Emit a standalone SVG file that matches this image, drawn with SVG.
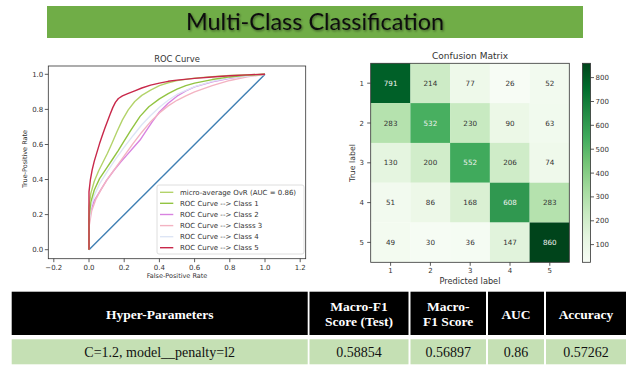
<svg xmlns="http://www.w3.org/2000/svg" width="634" height="372" viewBox="0 0 634 372">
  <style>
    .tick { font-family: "DejaVu Sans", sans-serif; font-size: 7px; fill: #333; }
    .lbl { font-family: "DejaVu Sans", sans-serif; fill: #333; }
    .ax { fill: none; stroke: #333; stroke-width: 0.8; }
    .tk { stroke: #333; stroke-width: 0.8; }
    .curve { fill: none; stroke-width: 1.4; vector-effect: non-scaling-stroke; stroke-linejoin: round; }
    .cell { font-family: "DejaVu Sans", sans-serif; font-size: 7.2px; text-anchor: middle; fill: #333; }
    .cell.w { fill: #f2f2f2; }
    .hd { font-family: "Liberation Serif", "Times New Roman", serif; font-size: 13.5px; font-weight: bold; fill: #fff; text-anchor: middle; }
    .dt { font-family: "Liberation Serif", "Times New Roman", serif; font-size: 14px; fill: #111; text-anchor: middle; }
    .hdbg { fill: #000; }
    .dtbg { fill: #c5e0b4; }
  </style>
  <defs>
    <filter id="shadow" x="-5%" y="-20%" width="110%" height="150%">
      <feDropShadow dx="1" dy="1.2" stdDeviation="0.8" flood-color="#000" flood-opacity="0.45"/>
    </filter>
    <linearGradient id="greens" x1="0" y1="1" x2="0" y2="0">
      <stop offset="0" stop-color="#f7fcf5"/>
      <stop offset="0.125" stop-color="#e5f5e0"/>
      <stop offset="0.25" stop-color="#c7e9c0"/>
      <stop offset="0.375" stop-color="#a1d99b"/>
      <stop offset="0.5" stop-color="#74c476"/>
      <stop offset="0.625" stop-color="#41ab5d"/>
      <stop offset="0.75" stop-color="#238b45"/>
      <stop offset="0.875" stop-color="#006d2c"/>
      <stop offset="1" stop-color="#00441b"/>
    </linearGradient>
  </defs>

  <rect width="634" height="372" fill="#fff"/>

  <!-- banner -->
  <g id="banner">
    <rect x="47" y="6" width="536" height="32" fill="#70ad47"/>
    <text x="315" y="29.5" text-anchor="middle" font-family="Lato, 'Open Sans', sans-serif" font-size="24" fill="#111" textLength="258" lengthAdjust="spacingAndGlyphs" filter="url(#shadow)">Multi-Class Classification</text>
  </g>

  <!-- ROC chart -->
  <g id="roc-chart">
    <text class="lbl" x="177" y="62" font-size="8.4" text-anchor="middle">ROC Curve</text>
    <!-- curves, data space 0..1000 -->
    <g transform="matrix(0.176 0 0 -0.1754 89 249.7)">
      <polyline class="curve" stroke="#3f7fb3" points="0,0 1000,1000"/>
      <polyline class="curve" stroke="#d883e0" points="0,0 0,160 10,220 30,280 60,330 100,395 140,450 180,500 220,545 250,580 290,625 320,670 360,730 400,785 450,835 500,875 550,905 600,928 700,957 800,977 900,991 1000,1000"/>
      <polyline class="curve" stroke="#f3b3c2" points="0,0 0,130 15,220 40,290 70,345 100,395 150,465 200,535 250,605 300,670 350,730 400,780 450,820 500,852 550,877 600,900 700,935 800,965 900,985 1000,1000"/>
      <polyline class="curve" stroke="#dde5f5" points="0,0 0,150 10,240 30,310 60,375 100,440 150,515 200,585 250,650 300,712 350,765 400,812 450,852 500,885 600,930 700,960 800,980 1000,1000"/>
      <polyline class="curve" stroke="#92c442" points="0,0 0,180 10,270 30,340 60,405 100,465 130,510 166,565 200,620 240,685 290,760 340,815 400,860 450,890 500,915 550,935 600,950 700,970 800,985 900,995 1000,1000"/>
      <polyline class="curve" stroke="#b3d36a" points="0,0 0,240 10,320 30,390 55,450 80,500 105,550 130,605 160,675 190,740 223,797 260,845 300,880 350,910 400,935 450,952 500,964 600,978 700,987 800,994 1000,1000"/>
      <polyline class="curve" stroke="#c8284a" points="0,0 0,330 8,400 18,455 30,505 45,555 60,605 75,650 90,692 105,732 120,772 135,810 150,840 167,862 190,877 220,890 260,906 300,922 350,938 400,950 450,960 500,967 600,977 700,985 800,992 900,997 1000,1000"/>
    </g>
    <rect class="ax" x="48.3" y="66" width="257.4" height="192.7"/>
    <!-- ticks -->
    <g class="tk">
      <line x1="53.8" y1="258.7" x2="53.8" y2="262.2"/>
      <line x1="89" y1="258.7" x2="89" y2="262.2"/>
      <line x1="124.2" y1="258.7" x2="124.2" y2="262.2"/>
      <line x1="159.4" y1="258.7" x2="159.4" y2="262.2"/>
      <line x1="194.6" y1="258.7" x2="194.6" y2="262.2"/>
      <line x1="229.8" y1="258.7" x2="229.8" y2="262.2"/>
      <line x1="265" y1="258.7" x2="265" y2="262.2"/>
      <line x1="300.2" y1="258.7" x2="300.2" y2="262.2"/>
      <line x1="44.8" y1="249.7" x2="48.3" y2="249.7"/>
      <line x1="44.8" y1="214.6" x2="48.3" y2="214.6"/>
      <line x1="44.8" y1="179.5" x2="48.3" y2="179.5"/>
      <line x1="44.8" y1="144.5" x2="48.3" y2="144.5"/>
      <line x1="44.8" y1="109.4" x2="48.3" y2="109.4"/>
      <line x1="44.8" y1="74.3" x2="48.3" y2="74.3"/>
    </g>
    <g class="tick" text-anchor="middle">
      <text x="53.8" y="269.5">−0.2</text>
      <text x="89" y="269.5">0.0</text>
      <text x="124.2" y="269.5">0.2</text>
      <text x="159.4" y="269.5">0.4</text>
      <text x="194.6" y="269.5">0.6</text>
      <text x="229.8" y="269.5">0.8</text>
      <text x="265" y="269.5">1.0</text>
      <text x="300.2" y="269.5">1.2</text>
    </g>
    <g class="tick" text-anchor="end">
      <text x="43.3" y="252.2">0.0</text>
      <text x="43.3" y="217.1">0.2</text>
      <text x="43.3" y="182">0.4</text>
      <text x="43.3" y="147">0.6</text>
      <text x="43.3" y="111.9">0.8</text>
      <text x="43.3" y="76.8">1.0</text>
    </g>
    <text class="lbl" x="177" y="278.3" font-size="6.5" text-anchor="middle">False-Positive Rate</text>
    <text class="lbl" transform="translate(26.5 159) rotate(-90)" font-size="6.5" text-anchor="middle">True-Positive Rate</text>
    <!-- legend -->
    <g id="roc-legend">
      <rect x="157" y="185" width="147" height="69" rx="2" fill="#fff" fill-opacity="0.85" stroke="#d6d6d6" stroke-width="0.8"/>
      <g stroke-width="1.4">
        <line x1="160" y1="192.3" x2="173.3" y2="192.3" stroke="#b3d36a"/>
        <line x1="160" y1="203.3" x2="173.3" y2="203.3" stroke="#92c442"/>
        <line x1="160" y1="214.5" x2="173.3" y2="214.5" stroke="#d883e0"/>
        <line x1="160" y1="225.6" x2="173.3" y2="225.6" stroke="#f3b3c2"/>
        <line x1="160" y1="236.7" x2="173.3" y2="236.7" stroke="#dde5f5"/>
        <line x1="160" y1="247.7" x2="173.3" y2="247.7" stroke="#c8284a"/>
      </g>
      <g class="tick">
        <text x="180" y="194.8">micro-average OvR (AUC = 0.86)</text>
        <text x="180" y="205.8">ROC Curve --&gt; Class 1</text>
        <text x="180" y="217">ROC Curve --&gt; Class 2</text>
        <text x="180" y="228.1">ROC Curve --&gt; Classs 3</text>
        <text x="180" y="239.2">ROC Curve --&gt; Class 4</text>
        <text x="180" y="250.2">ROC Curve --&gt; Class 5</text>
      </g>
    </g>
  </g>

  <!-- confusion matrix -->
  <g id="confusion-matrix">
    <text class="lbl" x="470" y="59" font-size="9" text-anchor="middle">Confusion Matrix</text>
    <g>
      <rect x="370.7" y="63.3" width="39.8" height="39.9" fill="#006028"/>
      <rect x="410.4" y="63.3" width="39.8" height="39.9" fill="#cdebc6"/>
      <rect x="450.1" y="63.3" width="39.8" height="39.9" fill="#eef9ea"/>
      <rect x="489.9" y="63.3" width="39.8" height="39.9" fill="#f7fcf5"/>
      <rect x="529.6" y="63.3" width="39.7" height="39.9" fill="#f2faef"/>

      <rect x="370.7" y="103.1" width="39.8" height="39.9" fill="#b5e2ae"/>
      <rect x="410.4" y="103.1" width="39.8" height="39.9" fill="#48af60"/>
      <rect x="450.1" y="103.1" width="39.8" height="39.9" fill="#c8eac1"/>
      <rect x="489.9" y="103.1" width="39.8" height="39.9" fill="#ecf8e7"/>
      <rect x="529.6" y="103.1" width="39.7" height="39.9" fill="#f1faee"/>

      <rect x="370.7" y="142.9" width="39.8" height="39.9" fill="#e5f5e0"/>
      <rect x="410.4" y="142.9" width="39.8" height="39.9" fill="#d1edca"/>
      <rect x="450.1" y="142.9" width="39.8" height="39.9" fill="#40aa5c"/>
      <rect x="489.9" y="142.9" width="39.8" height="39.9" fill="#cfecc8"/>
      <rect x="529.6" y="142.9" width="39.7" height="39.9" fill="#eff9eb"/>

      <rect x="370.7" y="182.7" width="39.8" height="39.9" fill="#f2faef"/>
      <rect x="410.4" y="182.7" width="39.8" height="39.9" fill="#edf8e8"/>
      <rect x="450.1" y="182.7" width="39.8" height="39.9" fill="#daf0d3"/>
      <rect x="489.9" y="182.7" width="39.8" height="39.9" fill="#309850"/>
      <rect x="529.6" y="182.7" width="39.7" height="39.9" fill="#b5e2ae"/>

      <rect x="370.7" y="222.5" width="39.8" height="39.8" fill="#f3fbf0"/>
      <rect x="410.4" y="222.5" width="39.8" height="39.8" fill="#f6fcf4"/>
      <rect x="450.1" y="222.5" width="39.8" height="39.8" fill="#f5fcf3"/>
      <rect x="489.9" y="222.5" width="39.8" height="39.8" fill="#e1f3dc"/>
      <rect x="529.6" y="222.5" width="39.7" height="39.8" fill="#00441b"/>
    </g>
    <g>
      <text class="cell w" x="390.6" y="85.7">791</text>
      <text class="cell" x="430.4" y="85.7">214</text>
      <text class="cell" x="470.2" y="85.7">77</text>
      <text class="cell" x="510" y="85.7">26</text>
      <text class="cell" x="549.8" y="85.7">52</text>

      <text class="cell" x="390.6" y="125.5">283</text>
      <text class="cell w" x="430.4" y="125.5">532</text>
      <text class="cell" x="470.2" y="125.5">230</text>
      <text class="cell" x="510" y="125.5">90</text>
      <text class="cell" x="549.8" y="125.5">63</text>

      <text class="cell" x="390.6" y="165.3">130</text>
      <text class="cell" x="430.4" y="165.3">200</text>
      <text class="cell w" x="470.2" y="165.3">552</text>
      <text class="cell" x="510" y="165.3">206</text>
      <text class="cell" x="549.8" y="165.3">74</text>

      <text class="cell" x="390.6" y="205.1">51</text>
      <text class="cell" x="430.4" y="205.1">86</text>
      <text class="cell" x="470.2" y="205.1">168</text>
      <text class="cell w" x="510" y="205.1">608</text>
      <text class="cell" x="549.8" y="205.1">283</text>

      <text class="cell" x="390.6" y="244.9">49</text>
      <text class="cell" x="430.4" y="244.9">30</text>
      <text class="cell" x="470.2" y="244.9">36</text>
      <text class="cell" x="510" y="244.9">147</text>
      <text class="cell w" x="549.8" y="244.9">860</text>
    </g>
    <rect class="ax" x="370.7" y="63.3" width="198.6" height="199"/>
    <g class="tk">
      <line x1="367.2" y1="83.2" x2="370.7" y2="83.2"/>
      <line x1="367.2" y1="123" x2="370.7" y2="123"/>
      <line x1="367.2" y1="162.8" x2="370.7" y2="162.8"/>
      <line x1="367.2" y1="202.6" x2="370.7" y2="202.6"/>
      <line x1="367.2" y1="242.4" x2="370.7" y2="242.4"/>
      <line x1="390.6" y1="262.3" x2="390.6" y2="265.8"/>
      <line x1="430.4" y1="262.3" x2="430.4" y2="265.8"/>
      <line x1="470.2" y1="262.3" x2="470.2" y2="265.8"/>
      <line x1="510" y1="262.3" x2="510" y2="265.8"/>
      <line x1="549.8" y1="262.3" x2="549.8" y2="265.8"/>
    </g>
    <g class="tick" text-anchor="end">
      <text x="364" y="85.7">1</text>
      <text x="364" y="125.5">2</text>
      <text x="364" y="165.3">3</text>
      <text x="364" y="205.1">4</text>
      <text x="364" y="244.9">5</text>
    </g>
    <g class="tick" text-anchor="middle">
      <text x="390.6" y="273.3">1</text>
      <text x="430.4" y="273.3">2</text>
      <text x="470.2" y="273.3">3</text>
      <text x="510" y="273.3">4</text>
      <text x="549.8" y="273.3">5</text>
    </g>
    <text class="lbl" x="470" y="284" font-size="8.2" text-anchor="middle">Predicted label</text>
    <text class="lbl" transform="translate(355 163) rotate(-90)" font-size="7.8" text-anchor="middle">True label</text>
    <!-- colour bar -->
    <rect x="582.5" y="63.3" width="8" height="199" fill="url(#greens)" stroke="#333" stroke-width="0.8"/>
    <g class="tk">
      <line x1="590.5" y1="244.6" x2="594" y2="244.6"/>
      <line x1="590.5" y1="220.8" x2="594" y2="220.8"/>
      <line x1="590.5" y1="196.9" x2="594" y2="196.9"/>
      <line x1="590.5" y1="173.1" x2="594" y2="173.1"/>
      <line x1="590.5" y1="149.2" x2="594" y2="149.2"/>
      <line x1="590.5" y1="125.3" x2="594" y2="125.3"/>
      <line x1="590.5" y1="101.5" x2="594" y2="101.5"/>
      <line x1="590.5" y1="77.6" x2="594" y2="77.6"/>
    </g>
    <g class="tick" font-size="7.4px">
      <text x="595.5" y="247.1">100</text>
      <text x="595.5" y="223.3">200</text>
      <text x="595.5" y="199.4">300</text>
      <text x="595.5" y="175.6">400</text>
      <text x="595.5" y="151.7">500</text>
      <text x="595.5" y="127.8">600</text>
      <text x="595.5" y="104">700</text>
      <text x="595.5" y="80.1">800</text>
    </g>
  </g>

  <!-- results table -->
  <g id="results-table">
    <rect class="hdbg" x="11.7" y="291.7" width="296" height="43.3"/>
    <rect class="hdbg" x="309.5" y="291.7" width="99" height="43.3"/>
    <rect class="hdbg" x="410.5" y="291.7" width="75.5" height="43.3"/>
    <rect class="hdbg" x="488" y="291.7" width="56" height="43.3"/>
    <rect class="hdbg" x="546" y="291.7" width="80" height="43.3"/>

    <rect class="dtbg" x="11.7" y="339.3" width="296" height="25"/>
    <rect class="dtbg" x="309.5" y="339.3" width="99" height="25"/>
    <rect class="dtbg" x="410.5" y="339.3" width="75.5" height="25"/>
    <rect class="dtbg" x="488" y="339.3" width="56" height="25"/>
    <rect class="dtbg" x="546" y="339.3" width="80" height="25"/>

    <text class="hd" x="159.7" y="318.8">Hyper-Parameters</text>
    <text class="hd" x="359" y="310.5">Macro-F1</text>
    <text class="hd" x="359" y="326">Score (Test)</text>
    <text class="hd" x="448.2" y="310.5">Macro-</text>
    <text class="hd" x="448.2" y="326">F1 Score</text>
    <text class="hd" x="516" y="318.8">AUC</text>
    <text class="hd" x="586" y="318.8">Accuracy</text>

    <text class="dt" x="159.7" y="356.8">C=1.2, model__penalty=l2</text>
    <text class="dt" x="359" y="356.8">0.58854</text>
    <text class="dt" x="448.2" y="356.8">0.56897</text>
    <text class="dt" x="516" y="356.8">0.86</text>
    <text class="dt" x="586" y="356.8">0.57262</text>
  </g>
</svg>
